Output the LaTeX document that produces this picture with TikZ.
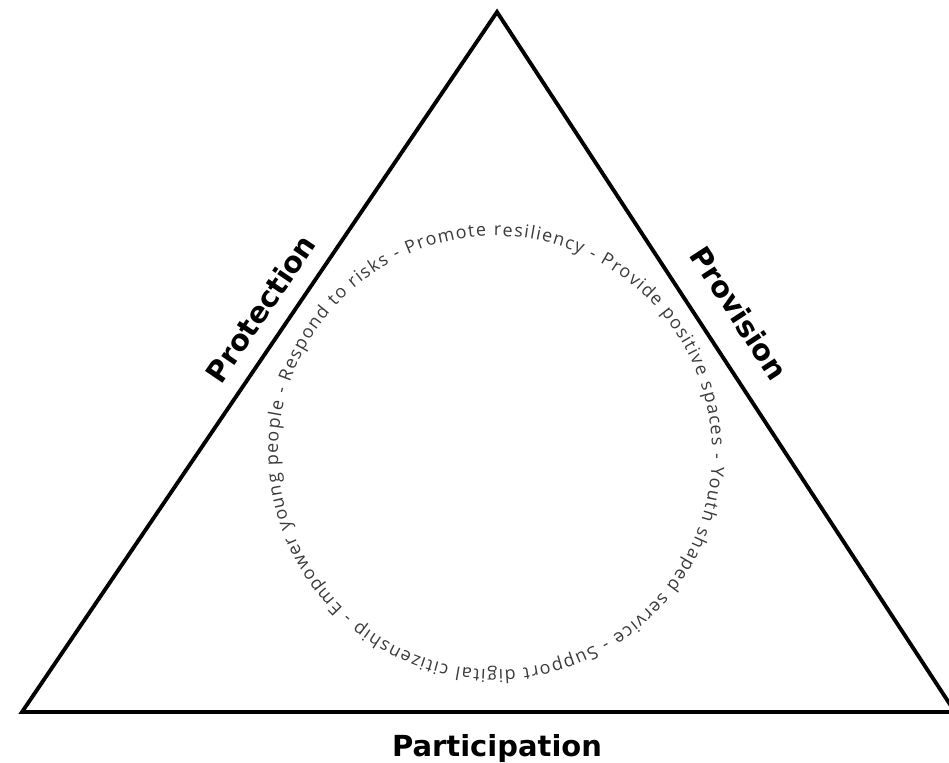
\documentclass[tikz,border=0pt]{standalone}
\usepackage{fontspec}
\setsansfont{DejaVu Sans}
\newfontfamily\ringfont{Open Sans}
\usetikzlibrary{positioning, decorations.text}
\definecolor{ringgray}{HTML}{3A3A3A}
\tikzstyle{edge} = [line width=2.2pt, line join=miter]
\tikzstyle{side} = [font=\sffamily\bfseries\fontsize{16.5}{18}\selectfont, inner sep=2pt]
\tikzstyle{ring} = [decorate, decoration={text along path, text align=fit to path, text color=ringgray,
  text={|\ringfont\fontsize{10.2}{10}\selectfont|Respond to risks - Promote resiliency - Provide positive spaces - Youth shaped service - Support digital citizenship - Empower young people -}}]

\begin{document}
\begin{tikzpicture}[x=0.02cm, y=0.02cm]
  \useasboundingbox (0,0) rectangle (949,762);
  \clip (0,0) rectangle (949,762);
  \coordinate (top) at (497,750);
  \coordinate (bl) at (22,50);
  \coordinate (br) at (955,50);
  \coordinate (ringc) at (495,309);
  \draw [edge] (top) -- (bl) -- (br) -- cycle;
  \path (bl) -- (top) node (prot) [side, pos=0.553, sloped, above=8pt] {Protection};
  \path (top) -- (br) node (prov) [side, pos=0.46, sloped, above=13pt] {Provision};
  \node (part) [side] at (497,14) {Participation};
  \path [ring] (ringc) ++(161:4.34cm) arc [start angle=161, end angle=-197, radius=4.34cm];
\end{tikzpicture}
\end{document}
